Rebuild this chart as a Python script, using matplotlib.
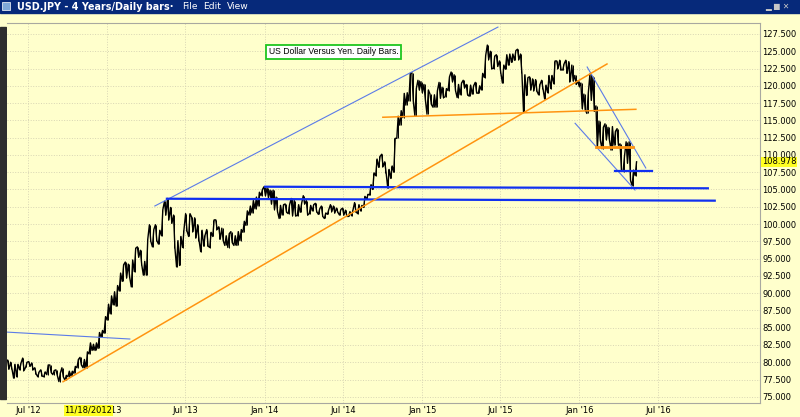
import pandas as pd
import matplotlib
matplotlib.use("Agg")
import matplotlib.pyplot as plt
from matplotlib.patches import Rectangle
from matplotlib.ticker import FormatStrFormatter

# -----------------------------
# Data: weekly low / high of USD.JPY
# (one bar per week, first week starts 2012-05-14)
# -----------------------------

lows_2012 = [79.0, 79.0, 77.7, 77.9, 78.9, 78.8, 79.3, 79.4, 78.9, 78.3, 77.9, 78.0,
             77.9, 78.2, 78.5, 78.2, 78.1, 77.2, 77.9, 77.4, 77.9, 78.0, 78.4, 79.2,
             79.6, 79.2, 79.2, 81.2, 81.7, 81.7, 82.0, 83.6, 84.2, 86.1]
highs_2012 = [80.3, 80.0, 79.7, 79.7, 79.9, 80.6, 80.0, 80.1, 79.9, 79.2, 78.6, 78.9,
              78.6, 79.6, 79.6, 78.8, 78.9, 78.4, 79.2, 78.1, 78.7, 78.7, 79.4, 80.4,
              80.7, 80.4, 81.5, 82.8, 82.6, 82.8, 84.3, 84.6, 86.6, 88.4]

lows_2013 = [87.0, 88.3, 88.1, 90.3, 91.7, 92.2, 92.3, 90.9, 93.1, 95.2, 94.1, 92.6,
             92.6, 97.5, 96.7, 97.6, 97.1, 98.3, 101.3, 100.6, 100.1, 96.5, 93.8, 94.0,
             96.6, 99.0, 98.2, 98.9, 98.0, 97.6, 96.0, 96.8, 96.8, 96.6, 98.2, 99.2,
             97.8, 97.6, 96.9, 96.6, 97.3, 96.9, 96.9, 97.6, 98.8, 99.8, 101.3, 101.6,
             102.2, 102.6, 104.1, 104.1]
highs_2013 = [89.6, 90.2, 91.1, 92.9, 94.1, 94.5, 94.2, 94.8, 96.5, 96.7, 96.2, 94.6,
              97.8, 99.9, 99.2, 99.9, 99.1, 102.1, 103.3, 103.7, 102.4, 101.3, 97.6, 98.2,
              99.2, 101.5, 101.5, 101.0, 100.9, 99.9, 99.1, 98.4, 99.2, 98.8, 100.6, 100.6,
              99.6, 99.4, 98.3, 98.6, 98.9, 98.3, 98.9, 99.2, 100.4, 101.9, 102.6, 103.4,
              103.9, 104.6, 105.0, 105.4]

lows_2014 = [103.8, 102.9, 102.1, 101.8, 100.8, 101.3, 101.7, 101.5, 101.2, 101.2, 101.2, 101.7,
             102.9, 101.3, 101.5, 101.9, 101.8, 101.4, 101.1, 100.8, 101.4, 101.8, 101.6, 101.7,
             101.3, 101.3, 101.1, 101.1, 101.2, 101.8, 101.5, 101.9, 102.4, 103.6, 104.2, 105.0,
             107.0, 108.2, 108.3, 107.4, 105.2, 106.6, 107.5, 112.4, 114.3, 115.4, 117.2, 117.8,
             117.8, 115.6, 119.4, 119.0]
highs_2014 = [105.2, 104.9, 104.9, 103.9, 102.7, 102.8, 102.9, 102.8, 103.7, 103.4, 102.8, 103.0,
              104.1, 103.4, 102.7, 102.8, 103.0, 102.2, 102.6, 101.6, 102.1, 102.8, 102.6, 102.3,
              102.1, 102.3, 102.0, 101.8, 102.0, 103.1, 102.8, 102.7, 104.0, 104.3, 105.7, 107.4,
              109.4, 109.8, 110.1, 109.0, 107.9, 108.4, 112.4, 115.6, 116.4, 118.9, 119.0, 121.8,
              121.9, 119.6, 120.8, 120.6]

lows_2015 = [118.0, 115.9, 117.3, 116.9, 116.9, 118.2, 118.3, 118.4, 119.3, 120.6, 119.3, 118.3,
             118.7, 119.7, 118.7, 118.5, 118.8, 119.0, 118.9, 119.4, 121.2, 123.8, 122.5, 122.5,
             122.8, 121.9, 120.4, 122.4, 123.0, 123.4, 123.7, 123.8, 121.8, 116.2, 118.6, 119.4,
             119.3, 119.2, 118.7, 119.6, 118.1, 119.0, 119.6, 120.3, 122.5, 122.3, 122.3, 121.8,
             120.6, 120.7, 120.2, 119.9]
highs_2015 = [120.2, 119.4, 118.8, 118.7, 119.3, 120.5, 119.8, 119.6, 121.3, 122.0, 121.6, 120.2,
              120.4, 120.8, 120.2, 120.1, 120.0, 120.5, 120.0, 121.8, 124.4, 125.9, 125.0, 124.3,
              124.5, 123.6, 123.0, 124.5, 124.6, 124.6, 125.1, 125.3, 124.6, 121.6, 121.2, 121.3,
              121.0, 120.9, 120.2, 120.8, 120.1, 121.5, 121.5, 123.6, 123.6, 123.7, 123.2, 123.7,
              123.5, 123.0, 121.5, 120.7]

lows_2016 = [116.7, 116.5, 116.0, 117.9, 116.3, 111.0, 112.1, 110.9, 112.2, 112.2,
             110.7, 111.4, 111.4, 107.7, 107.6, 108.8, 106.3, 105.55, 107.0]
highs_2016 = [120.4, 118.8, 118.9, 121.7, 121.3, 117.1, 114.9, 114.0, 114.5, 114.0,
              114.1, 113.4, 113.8, 111.6, 109.8, 111.9, 111.9, 107.8, 109.0]

lows = lows_2012 + lows_2013 + lows_2014 + lows_2015 + lows_2016
highs = highs_2012 + highs_2013 + highs_2014 + highs_2015 + highs_2016
weeks = pd.date_range("2012-05-16", periods=len(lows), freq="7D")

last_price = 108.978
marker_date = "2012-11-18"

# trend lines drawn on the chart: (start date, start price, end date, end price)
blue_thin = [
    ("2012-05-10", 84.37, "2013-02-22", 83.36),
    ("2013-04-21", 102.61, "2015-06-26", 128.5),
    ("2016-01-19", 122.72, "2016-06-03", 108.11),
    ("2015-12-22", 114.58, "2016-05-09", 104.92),
]
blue_thick = [
    ("2014-01-02", 105.40, "2016-10-25", 105.17),
    ("2013-05-19", 103.66, "2016-11-10", 103.38),
    ("2016-03-24", 107.67, "2016-06-17", 107.67),
]
orange_thin = [
    ("2012-09-20", 77.18, "2016-03-05", 123.16),
    ("2014-10-02", 115.45, "2016-05-11", 116.60),
]
orange_thick = [
    ("2016-02-09", 111.19, "2016-05-04", 111.19),
]

y_ticks = [75 + 2.5 * i for i in range(22)]
x_ticks = ["2012-07-01", "2013-01-01", "2013-07-01", "2014-01-01", "2014-07-01",
           "2015-01-01", "2015-07-01", "2016-01-01", "2016-07-01"]
x_labels = ["Jul '12", "Jan '13", "Jul '13", "Jan '14", "Jul '14",
            "Jan '15", "Jul '15", "Jan '16", "Jul '16"]

# -----------------------------
# Window chrome
# -----------------------------

bg = "#FFFFCC"
fig = plt.figure(figsize=(8, 4.17), dpi=100)
fig.patch.set_facecolor(bg)

chrome = fig.add_axes([0, 0, 1, 1], zorder=0)
chrome.set_xlim(0, 800)
chrome.set_ylim(417, 0)
chrome.axis("off")
chrome.add_patch(Rectangle((0, 0), 800, 13, color="#06297A"))
chrome.add_patch(Rectangle((2, 2), 8, 8, facecolor="#7FA8D8", edgecolor="white", lw=0.5))
chrome.add_patch(Rectangle((0, 27), 6, 372, color="#2E2E2E"))
chrome.text(17, 6.8, "USD.JPY - 4 Years/Daily bars\u00b7", color="white",
            fontsize=6.9, fontweight="bold", va="center")
for xpos, word in [(182, "File"), (203, "Edit"), (227, "View")]:
    chrome.text(xpos, 6.8, word, color="white", fontsize=6.6, va="center")
chrome.text(765, 6.8, "\u2582 \u25a0 \u2715", color="#C8C8C8", fontsize=5.5, va="center")

# -----------------------------
# Price chart
# -----------------------------

ax = fig.add_axes([7 / 800, 14 / 417, 753 / 800, 380 / 417], zorder=1)
ax.set_facecolor(bg)

# each week drawn as a low->high (or high->low) stroke, joined into one jagged line
px, py = [], []
for i, (d, lo, hi) in enumerate(zip(weeks, lows, highs)):
    nxt = (lows[i + 1] + highs[i + 1]) / 2 if i + 1 < len(lows) else hi
    going_up = nxt >= (lo + hi) / 2
    first, second = (lo, hi) if going_up else (hi, lo)
    px += [d - pd.Timedelta(days=1.6), d + pd.Timedelta(days=1.6)]
    py += [first, second]
ax.plot(px, py, color="black", lw=1.0, zorder=3)
ax.vlines(weeks, lows, highs, color="black", lw=0.7, zorder=3)

for lines, color, width in [(blue_thin, "#5B7BE8", 0.8), (blue_thick, "#1030F0", 1.6),
                            (orange_thin, "#FF9410", 1.1), (orange_thick, "#FF9410", 2.0)]:
    for d0, p0, d1, p1 in lines:
        ax.plot(pd.to_datetime([d0, d1]), [p0, p1], color=color, lw=width, zorder=4)

ax.set_xlim(pd.Timestamp("2012-05-13"), pd.Timestamp("2017-02-23"))
ax.set_ylim(74.1, 129.09)

ax.set_xticks(pd.to_datetime(x_ticks))
ax.set_xticklabels(x_labels)
ax.set_yticks(y_ticks)
ax.yaxis.set_major_formatter(FormatStrFormatter("%.3f"))
ax.yaxis.tick_right()
ax.tick_params(axis="both", length=0, labelsize=6, colors="black")
ax.tick_params(axis="x", pad=2.5)
ax.tick_params(axis="y", pad=1.5)
ax.grid(True, color="#D8D5B4", linestyle=":", lw=0.7, zorder=0)

for side in ["top", "right", "bottom"]:
    ax.spines[side].set_color("#A8A8A0")
    ax.spines[side].set_linewidth(0.8)
ax.spines["left"].set_visible(False)

# caption box
ax.text(0.434, 0.924, "US Dollar Versus Yen. Daily Bars.", transform=ax.transAxes,
        fontsize=6.2, family="Liberation Sans", ha="center", va="center", zorder=6,
        bbox=dict(boxstyle="square,pad=0.3", facecolor="white", edgecolor="#1FC61F", lw=1.3))

# last price marker on the axis
ax.text(1.0022, last_price, f"{last_price:.3f}", transform=ax.get_yaxis_transform(),
        fontsize=6, va="center", ha="left", zorder=6,
        bbox=dict(boxstyle="square,pad=0.1", facecolor="#FFFF22", edgecolor="none"))

# highlighted date on the time axis
ax.text(pd.Timestamp(marker_date), -0.019, "11/18/2012", transform=ax.get_xaxis_transform(),
        fontsize=6, ha="center", va="center", zorder=6,
        bbox=dict(boxstyle="square,pad=0.1", facecolor="#FFFF22", edgecolor="none"))

plt.savefig("out.png", dpi=100, facecolor=bg)
plt.close()
